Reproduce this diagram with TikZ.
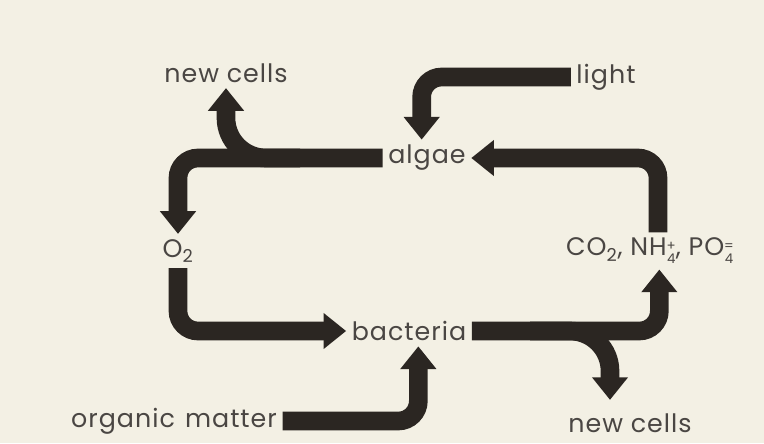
\documentclass[tikz,border=0pt]{standalone}
\usepackage{fontspec}
\setmainfont{Poppins}[LetterSpace=4]
\usepackage{tikz}
\usetikzlibrary{arrows.meta}
\definecolor{paper}{HTML}{F3F0E4}
\definecolor{ink}{HTML}{2B2622}
\definecolor{lbl}{HTML}{4A4643}
\newcommand{\subsup}[2]{\raisebox{-6pt}{\fontsize{10}{12}\selectfont\shortstack{#2\\#1}}}

\begin{document}
\begin{tikzpicture}[x=0.75pt,y=-0.75pt,>={Triangle[width=26pt,length=17pt]},
  flow/.style={->,draw=ink,line width=14pt,rounded corners=15pt},
  lb/.style={font=\fontsize{19}{22}\selectfont,text=lbl,inner sep=4pt}]
\fill[paper] (0,0) rectangle (764,443);
\node[lb] (nc1) at (226,73) {new cells};
\node[lb] (algae) at (427,158) {algae};
\node[lb] (light) at (606,77) {light};
\node[lb] (o2) at (178,251) {O\textsubscript{2}};
\node[lb] (ions) at (650,251) {CO\textsubscript{2}, NH\subsup{4}{+}, PO\subsup{4}{=}};
\node[lb] (bacteria) at (409,331) {bacteria};
\node[lb] (om) at (174,421) {organic\hspace{.4em}matter};
\node[lb] (nc2) at (630,423) {new cells};
\coordinate (fork1) at (300,158);
\coordinate (fork2) at (530,331);
\draw[flow] (algae.west) -| (o2.north);
\draw[flow,rounded corners=30pt] (fork1) -| (nc1.south);
\draw[flow] (light.west) -| ([xshift=-4pt]algae.north);
\draw[flow] ([xshift=6pt]ions.north) |- (algae.east);
\draw[flow] (o2.south) |- (bacteria.west);
\draw[flow] (om.east) -| ([xshift=7pt]bacteria.south);
\draw[flow] (bacteria.east) -| ([xshift=7pt]ions.south);
\draw[flow,rounded corners=30pt] (fork2) -| ([xshift=-15pt,yshift=6pt]nc2.north);
\end{tikzpicture}
\end{document}
